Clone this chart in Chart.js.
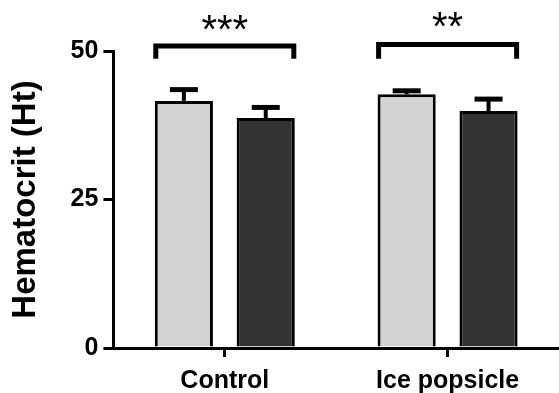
<!DOCTYPE html>
<html>
<head>
<meta charset="utf-8">
<script src="https://cdn.jsdelivr.net/npm/chart.js@4"></script>
<style>
  body { margin: 0; background: #fff; }
  #wrap { width: 559px; height: 393px; }
</style>
</head>
<body>
<div id="wrap"><canvas id="htChart" width="559" height="393"></canvas></div>
<script>
const categories = ['Control', 'Ice popsicle'];
const beforeMeans = [41.6, 42.7];
const beforeSem = [1.9, 0.6];
const afterMeans = [38.7, 39.9];
const afterSem = [1.8, 2.0];
const yTicks = [0, 25, 50];
const sigLabels = ['***', '**'];

const FONT = '"Liberation Sans", Arial, sans-serif';

// error bars + significance brackets
const extras = {
    id: 'extras',
    afterDatasetsDraw(chart) {
        const ctx = chart.ctx;
        const y = chart.scales.y;
        const sems = [beforeSem, afterSem];
        ctx.save();
        ctx.strokeStyle = '#000';
        ctx.fillStyle = '#000';
        chart.data.datasets.forEach((ds, d) => {
            const meta = chart.getDatasetMeta(d);
            meta.data.forEach((bar, i) => {
                const top = y.getPixelForValue(ds.data[i] + sems[d][i]);
                ctx.lineWidth = 4;
                ctx.beginPath();
                ctx.moveTo(bar.x, bar.y);
                ctx.lineTo(bar.x, top);
                ctx.stroke();
                ctx.lineWidth = 5;
                ctx.beginPath();
                ctx.moveTo(bar.x - 14, top);
                ctx.lineTo(bar.x + 14, top);
                ctx.stroke();
            });
        });

        const m0 = chart.getDatasetMeta(0), m1 = chart.getDatasetMeta(1);
        categories.forEach((c, i) => {
            const b0 = m0.data[i], b1 = m1.data[i];
            const x1 = b0.x - b0.width / 2 + 1;
            const x2 = b1.x + b1.width / 2 - 1;
            const yh = y.getPixelForValue(i === 0 ? 50.85 : 51.1);
            const yl = y.getPixelForValue(48.7);
            ctx.lineWidth = 5;
            ctx.lineJoin = 'miter';
            ctx.beginPath();
            ctx.moveTo(x1, yl);
            ctx.lineTo(x1, yh);
            ctx.lineTo(x2, yh);
            ctx.lineTo(x2, yl);
            ctx.stroke();
            ctx.font = '40px ' + FONT;
            ctx.textAlign = 'center';
            ctx.textBaseline = 'alphabetic';
            ctx.fillText(sigLabels[i], (x1 + x2) / 2, y.getPixelForValue(i === 0 ? 51.4 : 51.9));
        });
        ctx.restore();
    }
};

new Chart(document.getElementById('htChart'), {
    type: 'bar',
    data: {
        labels: categories,
        datasets: [
            {
                label: 'Before',
                data: beforeMeans,
                backgroundColor: '#d3d3d3',
                borderColor: '#000',
                borderWidth: 3,
                categoryPercentage: 0.735,
                barPercentage: 0.71
            },
            {
                label: 'After',
                data: afterMeans,
                backgroundColor: '#333333',
                borderColor: '#000',
                borderWidth: 3,
                categoryPercentage: 0.735,
                barPercentage: 0.71
            }
        ]
    },
    options: {
        responsive: false,
        animation: false,
        layout: { padding: { top: 51, right: 0, bottom: -12, left: 0 } },
        plugins: {
            legend: { display: false },
            tooltip: { enabled: false }
        },
        scales: {
            x: {
                offset: true,
                border: { display: true, color: '#000', width: 3 },
                grid: { offset: false, drawOnChartArea: false, drawTicks: true, tickLength: 9, color: '#000', lineWidth: 3 },
                ticks: { color: '#000', padding: 9, font: { family: FONT, size: 25, weight: 'bold' } }
            },
            y: {
                min: 0,
                max: 50,
                afterBuildTicks(scale) { scale.ticks = yTicks.map(v => ({ value: v })); },
                border: { display: true, color: '#000', width: 3 },
                grid: { drawOnChartArea: false, drawTicks: true, tickLength: 10, color: '#000', lineWidth: 3 },
                ticks: { color: '#000', padding: 5, font: { family: FONT, size: 25, weight: 'bold' } },
                title: {
                    display: true,
                    text: 'Hematocrit (Ht)',
                    color: '#000',
                    font: { family: FONT, size: 33, weight: 'bold' },
                    padding: { top: 6, bottom: 20 }
                }
            }
        }
    },
    plugins: [extras]
});
</script>
</body>
</html>
